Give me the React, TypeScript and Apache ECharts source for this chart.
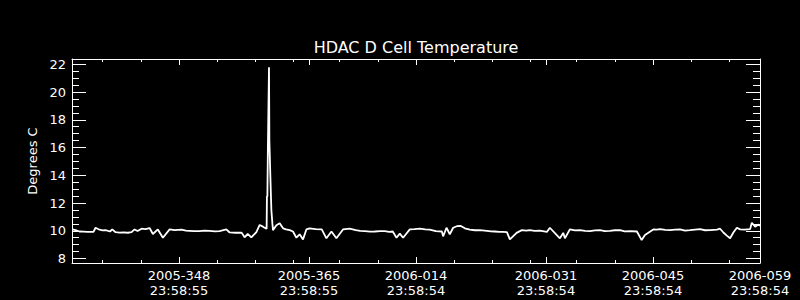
import React, { useEffect, useRef } from "react";
import * as echarts from "echarts";

// Time axis in fractional day numbers: 2005-DDD -> DDD, 2006-DDD -> 365 + DDD
const X_MIN = 335.0;
const X_MAX = 425.0;
const Y_MIN = 7.68;
const Y_MAX = 22.38;

const DAYS = [
  335.03, 335.46, 335.98, 336.5, 337.03, 337.81, 338.08, 338.6, 339.0, 339.39, 339.98, 340.26, 340.7,
  341.2, 341.74, 342.3, 342.79, 343.18, 343.58, 344.1, 344.62, 345.15, 345.58, 346.23, 346.89,
  347.77, 348.42, 349.34, 349.9, 350.38, 351.0, 351.69, 352.3, 353.0, 353.7, 354.3, 355.19,
  355.62, 356.41, 357.19, 357.58, 357.98, 358.46, 359.12, 359.55, 359.98, 360.33, 360.46,
  360.5, 360.56, 360.63, 360.7, 360.77, 360.82, 360.95, 361.08, 361.21, 361.29, 361.74, 362.17, 362.61, 363.0, 363.48,
  363.91, 364.35, 364.78, 365.22, 365.66, 366.09, 366.88, 367.67, 368.28, 368.94, 369.59,
  370.45, 371.33, 372.12, 372.7, 373.3, 374.0, 374.61, 375.3, 375.91, 376.5, 376.96, 377.45,
  377.88, 378.31, 379.19, 379.8, 380.5, 381.2, 381.8, 382.59, 383.38, 383.55, 383.99, 384.42,
  384.86, 385.34, 385.87, 386.39, 387.04, 387.7, 388.35, 389.27, 389.8, 390.31, 390.9, 391.36,
  391.89, 392.28, 393.16, 393.85, 394.4, 394.9, 395.5, 396.21, 397.12, 397.51, 398.39, 398.83,
  399.26, 399.48, 400.13, 400.8, 401.44, 402.1, 402.75, 403.4, 404.06, 404.7, 405.37, 406.0,
  406.68, 407.3, 407.99, 408.9, 409.52, 409.95, 411.04, 411.5, 411.92, 412.6, 413.23, 413.9,
  414.54, 415.2, 415.85, 416.5, 417.16, 417.8, 418.47, 419.38, 419.78, 420.21, 420.66, 421.09,
  421.52, 421.97, 422.4, 423.0, 423.71, 423.93, 424.36, 424.8, 425.0,
];

const TEMPS = [
  10.1, 10.05, 9.95, 9.94, 9.93, 9.92, 10.22, 10.08, 10.03, 10.05, 9.95, 10.1, 9.9,
  9.87, 9.88, 9.86, 9.9, 10.1, 9.98, 10.15, 10.12, 10.2, 9.77, 10.1, 9.5,
  10.1, 10.05, 10.08, 10.02, 10.0, 9.97, 9.98, 10.02, 10.0, 9.96, 9.98, 10.1,
  9.88, 9.86, 9.87, 9.53, 9.78, 9.53, 9.9, 10.42, 10.3, 10.18, 10.15,
  12.46, 12.5, 16.18, 16.2, 21.78, 16.5, 13.9, 11.5, 10.55, 10.05, 10.4, 10.54, 10.18, 10.1, 10.05,
  9.95, 9.5, 9.75, 9.38, 10.1, 10.18, 10.12, 10.1, 9.46, 9.95, 9.46,
  10.1, 10.15, 10.05, 10.0, 9.98, 9.94, 9.95, 9.97, 9.98, 9.93, 9.95, 9.5,
  9.8, 9.5, 10.1, 10.12, 10.15, 10.1, 10.08, 9.97, 9.95, 9.6, 10.22, 9.75,
  10.22, 10.33, 10.35, 10.18, 10.08, 10.04, 10.05, 10.0, 9.96, 9.95, 9.93, 9.92,
  9.9, 9.38, 9.85, 10.05, 10.02, 10.05, 10.0, 10.02, 9.92, 10.22, 9.7, 9.46,
  9.85, 9.46, 10.1, 10.03, 10.05, 9.99, 9.98, 10.03, 10.05, 9.97, 10.0, 10.04,
  10.05, 9.96, 9.98, 9.95, 9.33, 9.7, 10.1, 10.08, 10.12, 10.06, 10.05, 10.08,
  10.1, 10.02, 10.05, 10.09, 10.12, 10.04, 10.05, 10.08, 10.15, 9.88, 9.65, 9.46,
  9.88, 10.22, 10.1, 10.08, 10.12, 10.58, 10.3, 10.45, 10.35,
];

const X_MAJOR_VALUES = [348.999, 365.999, 379.999, 396.999, 410.999, 424.999];
const X_MAJOR_LABELS = [
  "2005-348\n23:58:55",
  "2005-365\n23:58:55",
  "2006-014\n23:58:54",
  "2006-031\n23:58:54",
  "2006-045\n23:58:54",
  "2006-059\n23:58:54",
];
const X_MINOR_VALUES = [339, 344, 354, 359, 364, 370, 375, 385, 390, 395, 401, 406, 416, 421];

const Y_MAJOR_VALUES = [8, 10, 12, 14, 16, 18, 20, 22];
const Y_MINOR_VALUES = [
  8.5, 9, 9.5, 10.5, 11, 11.5, 12.5, 13, 13.5, 14.5, 15, 15.5, 16.5, 17, 17.5, 18.5, 19, 19.5,
  20.5, 21, 21.5,
];

const TITLE = "HDAC D Cell Temperature";
const Y_NAME = "Degrees C";

const FONT = "DejaVu Sans, Liberation Sans, sans-serif";
const WHITE = "#ffffff";

export default function App() {
  const ref = useRef<HTMLDivElement>(null);

  useEffect(() => {
    document.body.style.margin = "0";
    document.body.style.background = "#000";
    if (!ref.current) return;
    const chart = echarts.init(ref.current, undefined, { renderer: "svg" });

    const baseX = (position: "bottom" | "top", values: number[], len: number, showLine: boolean, showLabel: boolean) => ({
      type: "value",
      position,
      min: X_MIN,
      max: X_MAX,
      axisLine: { show: showLine, lineStyle: { color: WHITE, width: 1 } },
      axisTick: {
        show: true,
        inside: true,
        length: len,
        customValues: values,
        lineStyle: { color: WHITE, width: 1 },
      },
      axisLabel: showLabel
        ? {
            show: true,
            customValues: X_MAJOR_VALUES,
            color: WHITE,
            fontFamily: FONT,
            fontSize: 13,
            lineHeight: 15,
            margin: 5,
            formatter: (v: number) => {
              let best = 0;
              X_MAJOR_VALUES.forEach((mv, i) => {
                if (Math.abs(mv - v) < Math.abs(X_MAJOR_VALUES[best] - v)) best = i;
              });
              return X_MAJOR_LABELS[best];
            },
          }
        : { show: false },
      splitLine: { show: false },
    });

    const baseY = (position: "left" | "right", values: number[], len: number, showLine: boolean, showLabel: boolean, withName: boolean) => ({
      type: "value",
      position,
      min: Y_MIN,
      max: Y_MAX,
      name: withName ? Y_NAME : "",
      nameLocation: "middle",
      nameGap: 31,
      nameTextStyle: { color: WHITE, fontFamily: FONT, fontSize: 13 },
      axisLine: { show: showLine, lineStyle: { color: WHITE, width: 1 } },
      axisTick: {
        show: true,
        inside: true,
        length: len,
        customValues: values,
        lineStyle: { color: WHITE, width: 1 },
      },
      axisLabel: showLabel
        ? {
            show: true,
            customValues: Y_MAJOR_VALUES,
            color: WHITE,
            fontFamily: FONT,
            fontSize: 13,
            margin: 6,
          }
        : { show: false },
      splitLine: { show: false },
    });

    chart.setOption({
      animation: false,
      backgroundColor: "#000000",
      grid: { left: 72, top: 59, width: 688, height: 204, containLabel: false },
      graphic: [
        {
          type: "text",
          x: 416,
          y: 47.5,
          style: {
            text: TITLE,
            fill: WHITE,
            fontFamily: FONT,
            fontSize: 16,
            align: "center",
            verticalAlign: "middle",
          },
        },
      ],
      xAxis: [
        baseX("bottom", X_MAJOR_VALUES, 6, true, true),
        baseX("bottom", X_MINOR_VALUES, 3, false, false),
        baseX("top", X_MAJOR_VALUES, 6, true, false),
        baseX("top", X_MINOR_VALUES, 3, false, false),
      ],
      yAxis: [
        baseY("left", Y_MAJOR_VALUES, 14, true, true, true),
        baseY("left", Y_MINOR_VALUES, 7, false, false, false),
        baseY("right", Y_MAJOR_VALUES, 14, true, false, false),
        baseY("right", Y_MINOR_VALUES, 7, false, false, false),
      ],
      series: [
        {
          type: "line",
          xAxisIndex: 0,
          yAxisIndex: 0,
          data: DAYS.map((d, i) => [d, TEMPS[i]]),
          showSymbol: false,
          symbol: "none",
          lineStyle: { color: WHITE, width: 1.8 },
          silent: true,
        },
      ],
    });

    return () => chart.dispose();
  }, []);

  return <div ref={ref} style={{ width: 800, height: 300 }} />;
}
